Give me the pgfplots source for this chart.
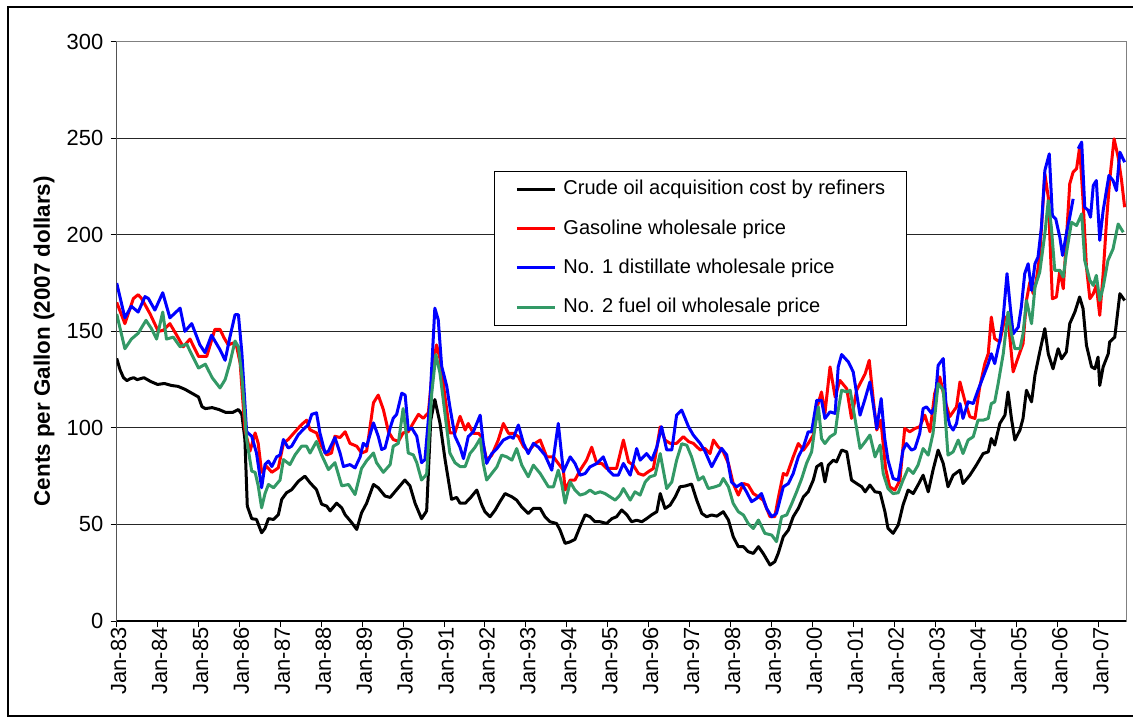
\documentclass[border=0pt]{standalone}
\usepackage{fontspec}
\setmainfont{Liberation Sans}
\usepackage{pgfplots}
\pgfplotsset{compat=1.18}
\definecolor{xlred}{RGB}{255,0,0}
\definecolor{xlblue}{RGB}{0,0,255}
\definecolor{xlgreen}{RGB}{51,153,102}

\begin{document}
\begin{tikzpicture}
\path[use as bounding box] (-58.35bp,-50bp) rectangle (508.15bp,310.5bp);
\draw[black, line width=0.6bp] (520bp,307bp) -- (-54.35bp,307bp) -- (-54.35bp,-47.5bp) -- (520bp,-47.5bp);
\begin{axis}[
  scale only axis,
  width=504.65bp, height=289.65bp,
  xmin=0, xmax=296, ymin=0, ymax=300,
  xtick={0,12,...,288},
  xticklabels={Jan-83,Jan-84,Jan-85,Jan-86,Jan-87,Jan-88,Jan-89,Jan-90,Jan-91,Jan-92,Jan-93,Jan-94,Jan-95,Jan-96,Jan-97,Jan-98,Jan-99,Jan-00,Jan-01,Jan-02,Jan-03,Jan-04,Jan-05,Jan-06,Jan-07},
  ytick={0,50,...,300},
  tick pos=left, tick align=outside, major tick length=3bp,
  tick style={black, line width=0.5bp},
  ymajorgrids, grid style={black!85, line width=0.5bp},
  axis line style={black!50, line width=0.5bp},
  /pgf/number format/assume math mode=true,
  ticklabel style={font=\fontsize{11}{13}\selectfont},
  yticklabel style={inner sep=0pt, xshift=-3.5bp},
  xticklabel style={rotate=90, anchor=east, inner sep=0pt, yshift=-1bp},
  ylabel={Cents per Gallon (2007 dollars)},
  ylabel style={at={(axis description cs:-0.072,0.483)}, anchor=center, font=\fontsize{11.25}{13}\selectfont\bfseries},
  legend style={at={(0.3738,0.7768)}, anchor=north west, draw=black, line width=0.5bp, fill=white,
    inner xsep=10.5bp, inner ysep=4.5bp, row sep=10.6bp, column sep=3.5bp,
    font=\fontsize{10.05}{11.5}\selectfont,
    nodes={inner sep=0pt, text height=7.2bp, text depth=1.8bp}},
  legend cell align=left,
  legend image code/.code={\draw[#1] (0bp,0bp) -- (19bp,0bp);},
  unbounded coords=jump,
  every axis plot/.append style={line width=1.5bp, line join=round},
]
% crude oil acquisition cost
\addplot[black] coordinates {
(0,136)(1,130)(2,126)(3,124.5)(4,125.5)(5,126)(6,125)(8,126)(10,124)(12,122.5)(14,123)(16,122)(18,121.5)(20,120)(22,118)(24,116)(25,111)(26,110)(28,110.5)(30,109.5)(32,108)(34,108)(35.7,109.5)(36.7,107)(37.6,94)(38.3,59.5)(39.6,53)(41,52.6)(42.5,45.7)(43.5,48)(44.5,53)(46,52.6)(47.4,55)(48.4,63)(49.8,66.4)(51.3,68)(53.3,72.4)(55.2,75)(56.7,71.6)(58.6,68)(60.1,60.5)(61.6,59.5)(62.6,57)(64.5,61)(66,58.6)(67,55)(68.9,51)(70.4,47.4)(71.8,56)(73.3,61)(75.3,70.7)(76.7,69)(78.7,64.7)(80.2,64)(82.1,68)(84.5,73)(86,70)(87.5,61)(89.4,53)(90.9,57)(92.1,104)(93.3,114.7)(94.8,102.6)(96.3,83.6)(98.2,63)(99.7,64)(100.7,61)(102.2,61)(103.6,63.5)(105.6,67.8)(107.1,60)(108,56.6)(109.5,54)(111,57.5)(112.4,61.8)(113.9,66)(115.9,64.3)(117.3,62.6)(118.8,59)(120.7,55.7)(122.2,58.3)(124.2,58.3)(125.6,54)(127.1,51.4)(129,50.5)(130,47.2)(131.5,40.2)(133,41)(134.4,42.3)(135.9,48.9)(137.4,55)(138.8,54)(140.3,51.4)(141.8,51.4)(143.7,50.5)(145.2,53)(146.6,54)(148.1,57.5)(149.6,55)(151,51.4)(152.5,52.2)(154,51.4)(155.4,53)(156.9,55)(158.4,56.6)(159.4,66)(160.8,58.3)(162.3,60)(163.8,64.3)(165.2,69.5)(166.7,69.9)(168.6,70.9)(170.1,62.6)(171.6,55.7)(173,54)(174.5,54.9)(176,54.3)(177.9,56.6)(179.4,52.3)(180.8,43.7)(182.3,38.5)(183.8,38.5)(185.2,35.9)(186.7,35)(188.2,38.5)(189.6,35)(191.6,29)(193,30.7)(194,35)(195.5,43.7)(197,47.1)(198.4,54)(199.9,58.3)(201.4,64.3)(202.8,66.9)(204.3,73)(205.3,79.9)(206.7,81.6)(207.7,72)(208.7,80.7)(210.2,83.3)(211.1,82.4)(212.6,88.5)(214.1,87.6)(215.5,73)(217,71.2)(218.5,69.5)(219.5,66.9)(220.9,70.4)(222.4,66.9)(223.9,66.5)(225.3,56.6)(226.2,48)(227.7,45.4)(229.2,49.7)(230.6,60)(232.1,67.8)(233.6,66)(235,70.4)(236.5,75.5)(238,66.9)(239.4,78.1)(240.9,88.5)(242.4,81.6)(243.8,69.5)(245.3,75.5)(247.3,78.1)(248.2,71.2)(250.2,75.5)(252.1,80.7)(254.1,86.7)(255.6,87.6)(256.5,94.5)(257.5,91.1)(259,102.3)(260.5,106.6)(261.4,118.6)(262.4,104.9)(263.4,93.7)(264.9,98.9)(265.8,104.9)(266.8,119.5)(268.3,113.5)(269.3,127.3)(270.7,139.3)(272.2,151.4)(273.2,138.4)(274.6,130.6)(276.1,141)(277.1,135.8)(278.5,139.3)(279.5,154)(281,160)(282.4,167.8)(283.4,161.8)(284.4,142.8)(285.9,131.6)(286.9,130.6)(287.8,136.7)(288.3,122)(289.3,131.6)(290.8,138.4)(291.2,144.5)(292.7,147)(294.2,169.5)(295.6,166)
};
\addlegendentry{Crude oil acquisition cost by refiners}
% gasoline wholesale price
\addplot[xlred] coordinates {
(0,165)(2.4,154)(4.9,167)(6.3,169)(7.3,167)(9.8,159)(12.2,150)(13.6,150.5)(15.6,154)(17.6,148)(19.5,142)(21.5,146)(24,137)(26.4,137)(28.8,151)(30.3,151)(31.5,146.6)(32.7,143)(34.2,144)(35.2,142)(36.2,133.6)(37.6,99)(39.1,88)(40.6,97.4)(41.5,92)(42.5,77)(44,80)(45.5,77)(47.4,79.3)(48.9,92)(50.3,94)(52.3,98)(54.2,101.7)(55.7,104)(56.7,99)(58.6,97.4)(60.1,90.5)(61.6,86)(63,87)(64,95.7)(65.5,95)(67,98)(68.4,92)(70.4,90.5)(71.8,87)(73.3,88)(75.3,113)(76.7,117)(78.2,109.5)(79.7,98)(81.1,94)(82.6,93)(84,97.4)(85.5,98)(87,102.6)(88.5,107)(89.9,105)(91.4,107.8)(92.7,132)(93.8,143)(94.8,136)(96.3,116)(97.7,97.4)(99.2,97.4)(100.7,106)(102.2,98.9)(103.1,102.3)(104.6,97.2)(106.1,97.2)(107,95.5)(108.5,83.3)(110,85.9)(111.9,93.7)(113.4,102.3)(114.9,97.2)(116.3,97.2)(117.8,95.5)(119.3,90.4)(120.7,87.8)(122.7,92)(124.2,93.7)(126.1,85)(128.1,85)(129.5,81.6)(131,78.1)(131.5,67.8)(133,73)(134.4,73)(135.9,78.1)(137.8,83.3)(139.3,90)(140.8,81.6)(142.2,81.6)(143.7,79)(145.2,79)(146.6,79)(148.6,93.7)(150.1,82.4)(151.5,80.7)(153,76.4)(154.5,75.5)(155.9,77.3)(157.4,79)(159.4,100.6)(160.8,93.7)(162.3,92)(164.2,92)(166.2,95.5)(167.7,92.9)(169.1,92)(171.1,88.6)(172.5,89.4)(174,86.7)(175,93.7)(176.4,90.2)(177.9,87.6)(179.4,81.6)(180.8,71.2)(182.3,65.2)(183.8,71.2)(185.2,70.4)(186.7,66)(188.2,64.3)(189.6,62.6)(191.6,54)(193,54)(194,63.5)(195.5,76.4)(196.5,75.5)(198.4,85)(199.9,91.9)(201.4,88.5)(202.8,91.9)(204.3,96.3)(205.3,110)(206.7,118.6)(207.7,107.5)(209.2,131.6)(210.7,116)(212.1,124.6)(214.1,120.3)(215.5,104.9)(217,119.5)(219.5,128)(220.7,135)(221.9,114.3)(222.9,98.9)(224.1,104)(225.5,79)(226.7,69.5)(228.2,67.8)(229.7,72.9)(231.1,99.7)(232.6,98)(234.1,99.7)(235.5,100.6)(237,106.6)(238.5,98)(239.9,117.8)(241.4,126.4)(242.9,114.3)(244.3,105.8)(246.3,110.9)(247.3,123.8)(248.7,114.3)(250.2,105.8)(251.7,104.9)(253.1,121.2)(254.6,133.3)(255.6,138.4)(256.5,157.4)(257.5,146.2)(259,144.5)(260.5,157.4)(261.4,156.6)(262.9,129)(264.4,136.7)(265.8,143.6)(266.8,166)(267.8,175.5)(268.8,169.5)(269.7,176.4)(270.7,189.3)(272.2,231.6)(273.2,219.5)(274.4,166.9)(275.6,167.8)(276.6,181.6)(277.6,172.1)(278.5,197.1)(279.5,226.4)(280.5,232.5)(281.5,234.2)(282.4,245.4)(283.4,217.8)(284.4,183.3)(285.4,166.9)(286.4,169.5)(287.3,173.8)(288.3,158.3)(289.3,179.9)(290.3,207.5)(291.2,228.1)(292.5,249.7)(293.7,240.2)(294.7,228.1)(295.6,214.3)
};
\addlegendentry{Gasoline wholesale price}
% no. 1 distillate wholesale price
\addplot[xlblue] coordinates {
(0,175)(2.4,157)(4.3,163)(6.3,160)(8.3,168)(9.3,167)(11.2,161)(13.5,170)(15.6,157)(18.6,162)(20,150)(22,154)(24.4,143)(25.9,139)(27.8,148)(30.3,140.5)(31.8,135)(33.2,147)(34.7,158.6)(35.7,158.6)(36.7,139)(38.1,98)(39.6,95.7)(41,87)(42.5,69)(43.5,81)(44.5,82.8)(45.5,80)(46.9,85)(47.9,86)(48.9,94)(50.3,89.6)(51.3,90.5)(53.3,96.6)(55.2,100)(56.2,101.7)(57.2,107)(58.6,107.8)(59.6,97.4)(61.1,87)(62.1,88)(64,95)(65.5,87)(66.5,80)(68.4,81)(69.9,79.3)(71.4,85)(72.3,92)(73.3,90.5)(75.3,102.6)(76.7,95.7)(77.7,88.8)(78.7,89.6)(80.2,100)(81.1,105)(82.1,107)(83.6,118)(84.6,117)(85.5,99)(86.5,100)(88,95.7)(89.4,82)(90.4,83.6)(91.9,114.7)(93.3,162)(94.3,156)(95.3,132)(96.8,121.5)(97.7,111)(99.2,95.7)(100.7,90)(101.7,84.1)(103.1,95.5)(104.6,98)(106.6,106.6)(107.5,92)(108.5,81.6)(110,86.7)(111.5,89.3)(113.4,93.7)(115.4,95.5)(116.3,94.6)(117.8,101.5)(119.3,92)(120.7,86.7)(122.2,92)(123.7,90)(125.6,85.9)(127.6,78.1)(129.5,102.3)(131,77.3)(133,85)(134.4,81.6)(135.9,75.5)(137.4,76.4)(138.8,79.8)(140.8,81.6)(142.7,85)(144.2,78.1)(145.7,75.5)(147.1,75.5)(148.6,81.6)(150.6,75.5)(152.5,89.3)(153.5,83.3)(155.4,86.7)(156.9,83.3)(158.4,90)(159.8,100.6)(161.3,88.6)(162.8,88.6)(164.2,106.6)(165.7,109.2)(167.7,100.6)(169.1,96.3)(171.1,92)(172.5,88)(174.5,79.9)(176,85)(177.4,89.4)(178.9,86)(180.3,72)(181.8,69.5)(183.3,71.2)(184.7,66.9)(186.2,61.8)(187.7,63.5)(189.1,66)(190.6,58.3)(192.1,54)(193.5,55.7)(194.5,62.6)(195.5,69.5)(197,71.2)(198.4,76.4)(199.9,85)(201.4,90.2)(202.8,98)(203.8,98)(205.3,114.3)(206.7,114.3)(207.7,104.9)(209.2,108.3)(210.7,107.5)(211.6,131.6)(212.6,138)(214.6,134.1)(216,129)(218,106.6)(219.5,115.2)(220.9,123.8)(222.9,99.7)(224.2,115.2)(225.2,95)(226.2,83.3)(227.7,73.8)(229.2,72.9)(230.6,88.5)(231.6,91.9)(233.1,88.5)(234.1,89.3)(235.5,97.1)(236.5,110)(237.5,110.9)(239,107.5)(239.9,110.9)(240.9,132.4)(242.4,135.9)(243.3,109.2)(244.3,101.5)(245.3,98.9)(246.3,102.3)(247.3,112.6)(248.2,104.9)(249.7,113.5)(251.2,112.6)(252.6,119.5)(254.1,126.4)(255.6,133.3)(256.5,138.4)(257.5,133.3)(259,145.4)(260,157.4)(261.1,179.9)(262.1,161.8)(262.9,148.7)(264.4,152.2)(265.3,162.6)(266.3,179.9)(267.3,185)(268.3,171.2)(269.3,185)(270.2,188.5)(271.2,204)(272.2,233.3)(273.5,241.9)(274.4,210)(275.4,208.2)(276.6,198.7)(277.4,189.3)(278.5,200.5)(279.5,209.1)(280.5,218.6)(281.3,nan)(282,244.6)(283,248)(283.9,214.3)(284.9,212.6)(285.6,209.1)(286.4,225.5)(287.3,228.1)(288.3,197.1)(289.3,212.6)(291,230.7)(292.2,228.1)(293.2,222.9)(294.2,242.8)(295.6,237.6)
};
\addlegendentry{No. 1 distillate wholesale price}
% no. 2 fuel oil wholesale price
\addplot[xlgreen] coordinates {
(0,159)(2.4,141)(4.3,146)(6.3,149)(8.6,155.7)(10.2,151.4)(11.7,146)(13.5,160)(14.6,146)(16.6,147)(18.6,142)(20.5,143.5)(22,138)(24,131)(26,133)(28,126)(30.3,120.7)(31.8,125)(33.2,133.6)(34.7,145)(35.7,142)(36.7,127)(38.1,94)(39.6,77.6)(40.6,77)(41.5,70)(42.5,58.6)(43.5,66)(44.5,70.7)(46,69)(47.9,73)(48.9,83.6)(50.8,81)(52.3,86)(54.2,90.5)(55.7,90.5)(56.7,87)(58.6,93)(60.1,86)(62.1,78.4)(64,82)(66,70)(68,70.7)(69.9,65.5)(71.8,79)(73.3,83)(75.3,87)(76.2,82)(78.2,77)(80.2,81)(81.1,90.5)(82.6,92)(84,110)(85,95.5)(85.5,87)(87,86)(88,82)(89.4,73)(90.9,76)(92.4,118)(93.6,138)(94.8,128.5)(96.3,107)(97.7,87)(99.2,82)(100.7,80)(102.2,80)(103.6,86.7)(105.1,90)(106.6,94.5)(107.5,81.6)(108.5,73)(110,76.4)(111.5,79.8)(112.9,85.9)(114.4,85)(115.9,83.3)(117.3,89.3)(118.8,80.7)(120.7,74.7)(122.2,80.7)(124.2,76.4)(126.6,69.5)(128.1,69.5)(129.5,78.1)(130.5,71.2)(131.5,61)(133,72)(134.4,67.8)(135.9,65.2)(137.4,66)(138.8,67.8)(140.3,66)(141.8,66.9)(143.2,66)(144.7,64.3)(146.2,62.6)(147.6,65.2)(148.6,68.6)(150.6,62.6)(152,66.9)(153.5,65.2)(155,72)(156.4,74.7)(157.9,75.5)(159.4,86.7)(161.3,68.6)(162.8,72)(164.2,83.2)(165.7,91.8)(167.2,91)(168.6,85)(170.6,73)(172,74.7)(173.5,68.6)(175.5,69.5)(176.9,70.4)(177.9,73.8)(179.4,69.5)(180.8,60.9)(182.3,56.6)(183.8,54.9)(185.2,50.5)(186.7,47.9)(188.2,52.3)(190.1,45.4)(192.1,44.5)(193.5,41.1)(195,54)(196.5,54.9)(198,60.9)(199.4,66.9)(200.9,73.8)(202.3,81.6)(203.8,87.6)(204.8,100.6)(205.8,110.9)(206.7,94.5)(207.7,91.9)(209.2,95.4)(210.7,97.1)(211.6,109.2)(212.6,119.5)(214.1,118.6)(215.1,119.5)(216.5,104.9)(218,89.4)(219.5,92.8)(220.9,96.3)(222.4,85)(223.9,91.1)(224.8,76.4)(226.2,68.6)(227.7,66)(229.2,66.4)(230.6,72.9)(232.1,79)(233.6,76.4)(235,80.7)(236.5,89.3)(238,85.9)(239.4,97.1)(240.9,122.9)(242.4,119.5)(243.8,85.9)(245.3,87.6)(246.8,93.7)(248.2,86.7)(249.7,93.7)(251.2,95.4)(252.6,104)(254.1,104)(255.6,104.9)(256.5,112.6)(257.5,113.5)(258.5,122.9)(260,138.4)(261.4,160)(262.4,148.7)(263.4,141)(264.9,141)(265.8,148.7)(266.8,166)(268.3,154)(269.3,172.9)(270.7,180.7)(272.2,200.5)(273.2,217.7)(274.1,204)(275.1,181.6)(276.6,181.6)(277.6,178.1)(278.5,190.2)(280,206.5)(281.5,204.8)(283,210.8)(283.9,186.7)(285.4,176.4)(286.4,173.8)(287.3,179)(288.3,166)(289.3,172.9)(290.7,186.7)(292.2,192.7)(293.7,205.6)(295.2,201.3)
};
\addlegendentry{No. 2 fuel oil wholesale price}
\draw[black, line width=0.6bp] (rel axis cs:0,1) -- (rel axis cs:0,0) -- (rel axis cs:1,0);
\end{axis}
\end{tikzpicture}
\end{document}
